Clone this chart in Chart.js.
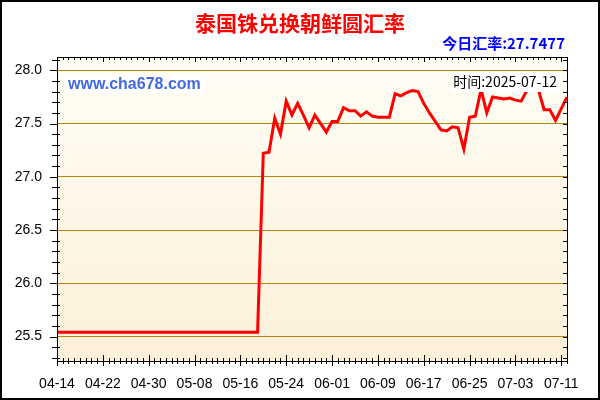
<!DOCTYPE html>
<html>
<head>
<meta charset="utf-8">
<script src="https://cdn.jsdelivr.net/npm/chart.js@4/dist/chart.umd.min.js"></script>
<style>
  html, body { margin: 0; padding: 0; background: #fff; }
  canvas { display: block; }
</style>
</head>
<body>
<canvas id="chartCanvas" width="600" height="400"></canvas>
<script>
const titleText = '泰国铢兑换朝鲜圆汇率';
const todayText = '今日汇率:27.7477';
const siteText = 'www.cha678.com';
const timeText = '时间:2025-07-12';

const dates = [
  '04-14','04-15','04-16','04-17','04-18','04-19','04-20','04-21','04-22','04-23',
  '04-24','04-25','04-26','04-27','04-28','04-29','04-30',
  '05-01','05-02','05-03','05-04','05-05','05-06','05-07','05-08','05-09','05-10',
  '05-11','05-12','05-13','05-14','05-15','05-16','05-17','05-18','05-19','05-20',
  '05-21','05-22','05-23','05-24','05-25','05-26','05-27','05-28','05-29','05-30','05-31',
  '06-01','06-02','06-03','06-04','06-05','06-06','06-07','06-08','06-09','06-10',
  '06-11','06-12','06-13','06-14','06-15','06-16','06-17','06-18','06-19','06-20',
  '06-21','06-22','06-23','06-24','06-25','06-26','06-27','06-28','06-29','06-30',
  '07-01','07-02','07-03','07-04','07-05','07-06','07-07','07-08','07-09','07-10',
  '07-11','07-12'
];

const rates = [
  25.54, 25.54, 25.54, 25.54, 25.54, 25.54, 25.54, 25.54, 25.54, 25.54,
  25.54, 25.54, 25.54, 25.54, 25.54, 25.54, 25.54, 25.54, 25.54, 25.54,
  25.54, 25.54, 25.54, 25.54, 25.54, 25.54, 25.54, 25.54, 25.54, 25.54,
  25.54, 25.54, 25.54, 25.54, 25.54, 25.54,
  27.22, 27.23, 27.55, 27.40, 27.71, 27.58, 27.69, 27.58, 27.46, 27.58,
  27.50, 27.42, 27.52, 27.52, 27.65, 27.62, 27.62, 27.57, 27.61, 27.57,
  27.56, 27.56, 27.56, 27.78, 27.76, 27.79, 27.81, 27.80, 27.69, 27.60,
  27.52, 27.44, 27.43, 27.47, 27.46, 27.26, 27.56, 27.57, 27.82, 27.60,
  27.75, 27.74, 27.73, 27.74, 27.72, 27.71, 27.81, 27.90, 27.82, 27.63,
  27.63, 27.53, 27.64, 27.7477
];

const xTickLabels = ['04-14','04-22','04-30','05-08','05-16','05-24','06-01','06-09','06-17','06-25','07-03','07-11'];
const yTickLabels = ['25.5','26.0','26.5','27.0','27.5','28.0'];

const fontFamily = '"Liberation Sans", Arial, sans-serif';
const cjkFamily = '"Noto Sans CJK SC", "Liberation Sans", sans-serif';

// background, frame, tick marks and the text boxes
const decor = {
  id: 'decor',
  beforeDraw(chart) {
    const c = chart.ctx;
    const a = chart.chartArea;
    c.save();
    c.fillStyle = '#fff';
    c.fillRect(0, 0, chart.width, chart.height);
    const g = c.createLinearGradient(0, a.top, 0, a.bottom);
    g.addColorStop(0, '#fffef5');
    g.addColorStop(1, '#fcf0d9');
    c.fillStyle = g;
    c.fillRect(a.left, a.top, a.right - a.left, a.bottom - a.top);
    c.restore();
  },
  afterDraw(chart) {
    const c = chart.ctx;
    const a = chart.chartArea;
    const xs = chart.scales.x;
    const ys = chart.scales.y;
    c.save();

    // tick marks
    c.strokeStyle = '#000';
    c.lineWidth = 1;
    c.beginPath();
    for (let i = 0; i < dates.length; i++) {
      const x = Math.round(xs.getPixelForValue(i)) + 0.5;
      const major = xTickLabels.includes(dates[i]);
      c.moveTo(x, a.bottom - (major ? 6 : 3));
      c.lineTo(x, a.bottom + (major ? 5 : 3));
      c.moveTo(x, a.top);
      c.lineTo(x, a.top + (major ? 5 : 3));
    }
    for (let k = 253; k <= 281; k++) {
      const v = k / 10;
      const y = Math.round(ys.getPixelForValue(v)) + 0.5;
      const major = k % 5 === 0;
      c.moveTo(a.left - (major ? 7 : 5), y);
      c.lineTo(a.left + (major ? 0 : 3), y);
      c.moveTo(a.right - 4, y);
      c.lineTo(a.right + 1, y);
    }
    c.stroke();

    // plot frame
    c.strokeRect(Math.round(a.left) + 0.5, Math.round(a.top) + 0.5,
      Math.round(a.right - a.left), Math.round(a.bottom - a.top));

    // outer border
    c.lineWidth = 2;
    c.strokeRect(1, 1, chart.width - 2, chart.height - 2);

    // title
    c.textBaseline = 'middle';
    c.textAlign = 'center';
    c.fillStyle = '#ff0000';
    c.font = 'bold 21px ' + cjkFamily;
    c.fillText(titleText, 300, 23);

    // today's rate
    c.textAlign = 'right';
    c.fillStyle = '#0000ff';
    c.font = 'bold 15px ' + cjkFamily;
    c.fillText(todayText, 565, 43);

    // site label
    c.fillStyle = '#fff';
    c.fillRect(66, 76, 138, 17);
    c.textAlign = 'left';
    c.fillStyle = '#4169e1';
    c.font = 'bold 16px ' + fontFamily;
    c.fillText(siteText, 68, 85);

    // time label
    c.fillStyle = '#fff';
    c.fillRect(452, 72, 110, 20);
    c.textAlign = 'right';
    c.fillStyle = '#000';
    c.font = '14px ' + cjkFamily;
    c.fillText(timeText, 557, 82);

    c.restore();
  }
};

const ctx = document.getElementById('chartCanvas').getContext('2d');

const chart = new Chart(ctx, {
  type: 'line',
  data: {
    labels: dates,
    datasets: [{
      label: titleText,
      data: rates,
      borderColor: '#ff0000',
      borderWidth: 3,
      pointRadius: 0,
      tension: 0,
      fill: false
    }]
  },
  options: {
    responsive: false,
    animation: false,
    devicePixelRatio: 1,
    layout: { padding: { left: 0, right: 33, top: 57, bottom: 0 } },
    plugins: {
      legend: { display: false },
      title: { display: false },
      tooltip: { enabled: false }
    },
    scales: {
      x: {
        type: 'category',
        afterFit(scale) { scale.height = 39; },
        grid: { display: false },
        border: { display: true, color: '#000', width: 1 },
        ticks: {
          autoSkip: false,
          maxRotation: 0,
          minRotation: 0,
          padding: 7,
          color: '#000',
          font: { family: fontFamily, size: 14 },
          callback(v) {
            const d = this.getLabelForValue(v);
            return xTickLabels.includes(d) ? d : '';
          }
        }
      },
      y: {
        min: 25.27,
        max: 28.125,
        afterFit(scale) { scale.width = 57; },
        grid: { color: '#b8860b', lineWidth: 1, drawTicks: false },
        border: { display: true, color: '#000', width: 1 },
        ticks: {
          stepSize: 0.5,
          includeBounds: false,
          padding: 15,
          color: '#000',
          font: { family: fontFamily, size: 14 },
          callback(v) {
            const s = v.toFixed(1);
            return yTickLabels.includes(s) ? s : '';
          }
        }
      }
    }
  },
  plugins: [decor]
});
</script>
</body>
</html>
